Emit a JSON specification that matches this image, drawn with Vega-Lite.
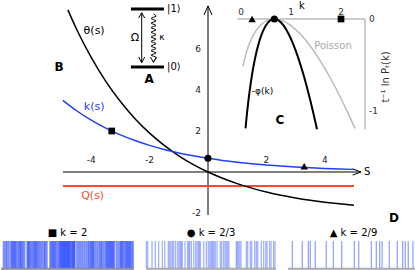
{
"$schema":"https://vega.github.io/schema/vega-lite/v6.json",
"padding":0,
"spacing":0,
"config":{"view":{"stroke":null},"font":"DejaVu Sans","axis":{"disable":true},"title":{"fontWeight":"normal","fontSize":10,"offset":2,"color":"#000"}},
"vconcat":[
{
"width":415,"height":228,
"resolve":{"scale":{"x":"independent","y":"independent"}},
"layer":[
{
"encoding":{
"x":{"field":"s","type":"quantitative","scale":{"domain":[-7.089,7.123],"nice":false,"zero":false},"axis":null},
"y":{"field":"v","type":"quantitative","scale":{"domain":[-2.732,8.39],"nice":false,"zero":false},"axis":null}
},
"layer":[
{"data":{"values":[{"s":-4.97,"s2":5.24,"v":0}]},"mark":{"type":"rule","color":"#000","strokeWidth":1},"encoding":{"x2":{"field":"s2"}}},
{"data":{"values":[{"s":0,"v":-2.1,"v2":8.1}]},"mark":{"type":"rule","color":"#000","strokeWidth":1},"encoding":{"y2":{"field":"v2"}}},
{"data":{"values":[{"s":-4},{"s":-3},{"s":-2},{"s":-1},{"s":1},{"s":2},{"s":3},{"s":4}]},"mark":{"type":"rule","color":"#000","strokeWidth":1},"encoding":{"y":{"datum":-0.26},"y2":{"datum":0.3}}},
{"data":{"values":[{"v":-2},{"v":-1},{"v":1},{"v":2},{"v":3},{"v":4},{"v":5},{"v":6},{"v":7}]},"mark":{"type":"rule","color":"#000","strokeWidth":1},"encoding":{"x":{"datum":-0.17},"x2":{"datum":0.17}}},
{"data":{"values":[{"s":-4,"v":0.58,"t":"-4"},{"s":-2,"v":0.58,"t":"-2"},{"s":2,"v":0.58,"t":"2"},{"s":4,"v":0.58,"t":"4"}]},"mark":{"type":"text","fontSize":9,"color":"#222","align":"center","baseline":"middle"},"encoding":{"text":{"field":"t"}}},
{"data":{"values":[{"s":-0.24,"v":6,"t":"6"},{"s":-0.24,"v":4,"t":"4"},{"s":-0.24,"v":2,"t":"2"},{"s":-0.24,"v":-2,"t":"-2"}]},"mark":{"type":"text","fontSize":9,"color":"#222","align":"right","baseline":"middle"},"encoding":{"text":{"field":"t"}}},
{"data":{"values":[
{"g":"hx","o":0,"s":4.955,"v":0.15},{"g":"hx","o":1,"s":5.24,"v":0},{"g":"hx","o":2,"s":4.955,"v":-0.15},
{"g":"vy","o":0,"s":-0.137,"v":7.66},{"g":"vy","o":1,"s":0,"v":8.1},{"g":"vy","o":2,"s":0.137,"v":7.66},
{"g":"om1","o":0,"s":-2.373,"v":7.51},{"g":"om1","o":1,"s":-2.271,"v":7.77},{"g":"om1","o":2,"s":-2.168,"v":7.51},
{"g":"om2","o":0,"s":-2.373,"v":5.61},{"g":"om2","o":1,"s":-2.271,"v":5.33},{"g":"om2","o":2,"s":-2.168,"v":5.61},
{"g":"ka","o":0,"s":-1.969,"v":5.61},{"g":"ka","o":1,"s":-1.866,"v":5.34},{"g":"ka","o":2,"s":-1.764,"v":5.61}
]},"mark":{"type":"line","color":"#000","strokeWidth":1},"encoding":{"detail":{"field":"g"},"order":{"field":"o"}}},
{"data":{"values":[
{"o":0,"s":-1.866,"v":7.71},{"o":1,"s":-1.78,"v":7.6},{"o":2,"s":-1.95,"v":7.49},{"o":3,"s":-1.78,"v":7.37},{"o":4,"s":-1.95,"v":7.26},{"o":5,"s":-1.78,"v":7.15},{"o":6,"s":-1.95,"v":7.04},{"o":7,"s":-1.78,"v":6.93},{"o":8,"s":-1.95,"v":6.82},{"o":9,"s":-1.78,"v":6.7},{"o":10,"s":-1.95,"v":6.59},{"o":11,"s":-1.78,"v":6.48},{"o":12,"s":-1.95,"v":6.37},{"o":13,"s":-1.78,"v":6.26},{"o":14,"s":-1.95,"v":6.14},{"o":15,"s":-1.78,"v":6.03},{"o":16,"s":-1.95,"v":5.92},{"o":17,"s":-1.78,"v":5.81},{"o":18,"s":-1.95,"v":5.7},{"o":19,"s":-1.78,"v":5.59},{"o":20,"s":-1.866,"v":5.4}
]},"mark":{"type":"line","color":"#000","strokeWidth":1,"interpolate":"cardinal"},"encoding":{"order":{"field":"o"}}},
{"data":{"values":[{"s":-2.271,"v":5.36,"v2":7.74}]},"mark":{"type":"rule","color":"#000","strokeWidth":1},"encoding":{"y2":{"field":"v2"}}},
{"data":{"values":[{"s":-2.64,"s2":-1.51,"v":7.95},{"s":-2.64,"s2":-1.51,"v":5.12}]},"mark":{"type":"rule","color":"#000","strokeWidth":3},"encoding":{"x2":{"field":"s2"}}},
{"data":{"values":[{"s":-4.97,"s2":5.0,"v":-0.68}]},"mark":{"type":"rule","color":"#ff4a2a","strokeWidth":2},"encoding":{"x2":{"field":"s2"}}},
{"data":{"values":[
{"s":-4.8,"v":7.906},{"s":-4.5,"v":6.963},{"s":-4,"v":5.587},{"s":-3.5,"v":4.422},{"s":-3,"v":3.437},{"s":-2.5,"v":2.602},{"s":-2,"v":1.895},{"s":-1.5,"v":1.297},{"s":-1,"v":0.791},{"s":-0.5,"v":0.363},{"s":0,"v":0},{"s":0.5,"v":-0.307},{"s":1,"v":-0.567},{"s":1.5,"v":-0.787},{"s":2,"v":-0.973},{"s":2.5,"v":-1.131},{"s":3,"v":-1.264},{"s":3.5,"v":-1.377},{"s":4,"v":-1.473},{"s":4.5,"v":-1.554},{"s":5,"v":-1.622}
]},"mark":{"type":"line","color":"#000","strokeWidth":1.5,"interpolate":"monotone"}},
{"data":{"values":[
{"s":-4.97,"v":3.495},{"s":-4.5,"v":2.988},{"s":-4,"v":2.529},{"s":-3.5,"v":2.141},{"s":-3,"v":1.812},{"s":-2.5,"v":1.534},{"s":-2,"v":1.298},{"s":-1.5,"v":1.099},{"s":-1,"v":0.93},{"s":-0.5,"v":0.788},{"s":0,"v":0.667},{"s":0.5,"v":0.564},{"s":1,"v":0.478},{"s":1.5,"v":0.404},{"s":2,"v":0.342},{"s":2.5,"v":0.29},{"s":3,"v":0.245},{"s":3.5,"v":0.208},{"s":4,"v":0.176},{"s":4.5,"v":0.149},{"s":5,"v":0.126}
]},"mark":{"type":"line","color":"#1f40ff","strokeWidth":1.5,"interpolate":"monotone"}},
{"data":{"values":[{"s":-3.296,"v":2,"k":"2"},{"s":0,"v":0.667,"k":"2/3"},{"s":3.296,"v":0.28,"k":"2/9"}]},"mark":{"type":"point","filled":true,"color":"#000","opacity":1},
 "encoding":{"shape":{"field":"k","type":"nominal","scale":{"domain":["2","2/3","2/9"],"range":["square","circle","triangle-up"]},"legend":null},
 "size":{"field":"k","type":"nominal","scale":{"domain":["2","2/3","2/9"],"range":[45,55,45]},"legend":null}}},
{"data":{"values":[{"s":-3.9,"v":6.88,"t":"θ(s)"},{"s":-2.5,"v":6.54,"t":"Ω"}]},"mark":{"type":"text","fontSize":11,"color":"#000","align":"center","baseline":"middle"},"encoding":{"text":{"field":"t"}}},
{"data":{"values":[{"s":-1.58,"v":6.59,"t":"κ"}]},"mark":{"type":"text","fontSize":9,"color":"#000","align":"center","baseline":"middle"},"encoding":{"text":{"field":"t"}}},
{"data":{"values":[{"s":-1.4,"v":7.95,"t":"|1⟩"},{"s":-1.4,"v":5.12,"t":"|0⟩"}]},"mark":{"type":"text","fontSize":10,"color":"#000","align":"left","baseline":"middle"},"encoding":{"text":{"field":"t"}}},
{"data":{"values":[{"s":-3.9,"v":3.17,"t":"k(s)"}]},"mark":{"type":"text","fontSize":11,"color":"#1f40ff","align":"center","baseline":"middle"},"encoding":{"text":{"field":"t"}}},
{"data":{"values":[{"s":-3.95,"v":-1.17,"t":"Q(s)"}]},"mark":{"type":"text","fontSize":11,"color":"#ff4a2a","align":"center","baseline":"middle"},"encoding":{"text":{"field":"t"}}},
{"data":{"values":[{"s":-5.1,"v":5.12,"t":"B"},{"s":-2.02,"v":4.54,"t":"A"},{"s":6.37,"v":-2.24,"t":"D"}]},"mark":{"type":"text","fontSize":12,"fontWeight":"bold","color":"#000","align":"center","baseline":"middle"},"encoding":{"text":{"field":"t"}}},
{"data":{"values":[{"s":5.45,"v":0,"t":"S"}]},"mark":{"type":"text","fontSize":10,"color":"#000","align":"center","baseline":"middle"},"encoding":{"text":{"field":"t"}}}
]
},
{
"encoding":{
"x":{"field":"k","type":"quantitative","scale":{"domain":[-4.8,3.5],"nice":false,"zero":false},"axis":null},
"y":{"field":"p","type":"quantitative","scale":{"domain":[-2.272,0.2065],"nice":false,"zero":false},"axis":null}
},
"layer":[
{"data":{"values":[{"k":-0.07,"k2":2.48,"p":0}]},"mark":{"type":"rule","color":"#999","strokeWidth":1},"encoding":{"x2":{"field":"k2"}}},
{"data":{"values":[{"k":2.48,"p":0,"p2":-1.2}]},"mark":{"type":"rule","color":"#999","strokeWidth":1},"encoding":{"y2":{"field":"p2"}}},
{"data":{"values":[{"p":-0.2},{"p":-0.4},{"p":-0.6},{"p":-0.8},{"p":-1.0},{"p":-1.2}]},"mark":{"type":"rule","color":"#999","strokeWidth":1},"encoding":{"x":{"datum":2.4},"x2":{"datum":2.48}}},
{"data":{"values":[{"k":0},{"k":1},{"k":2}]},"mark":{"type":"rule","color":"#999","strokeWidth":1},"encoding":{"y":{"datum":0},"y2":{"datum":0.035}}},
{"data":{"values":[{"k":0,"p":0.075,"t":"0"},{"k":1,"p":0.075,"t":"1"},{"k":2,"p":0.075,"t":"2"}]},"mark":{"type":"text","fontSize":9,"color":"#333","align":"center","baseline":"middle"},"encoding":{"text":{"field":"t"}}},
{"data":{"values":[{"k":2.56,"p":0,"t":"0"},{"k":2.56,"p":-1,"t":"-1"}]},"mark":{"type":"text","fontSize":9,"color":"#333","align":"left","baseline":"middle"},"encoding":{"text":{"field":"t"}}},
{"data":{"values":[{"k":1.22,"p":0.14,"t":"k"}]},"mark":{"type":"text","fontSize":10,"color":"#000","align":"center","baseline":"middle"},"encoding":{"text":{"field":"t"}}},
{"data":{"values":[{"k":2.9,"p":-0.63,"t":"t⁻¹ ln Pₜ(k)"}]},"mark":{"type":"text","fontSize":10,"color":"#333","align":"center","baseline":"middle","angle":270},"encoding":{"text":{"field":"t"}}},
{"data":{"values":[
{"k":0.04,"p":-0.514},{"k":0.1,"p":-0.377},{"k":0.2,"p":-0.226},{"k":0.3,"p":-0.127},{"k":0.4,"p":-0.062},{"k":0.5,"p":-0.023},{"k":0.667,"p":0},{"k":0.8,"p":-0.0125},{"k":1.0,"p":-0.0721},{"k":1.2,"p":-0.172},{"k":1.4,"p":-0.305},{"k":1.6,"p":-0.468},{"k":1.8,"p":-0.655},{"k":2.0,"p":-0.864},{"k":2.15,"p":-1.034},{"k":2.28,"p":-1.19}
]},"mark":{"type":"line","color":"#bbbbbb","strokeWidth":1.5,"interpolate":"monotone"}},
{"data":{"values":[
{"k":0.09,"p":-1.19},{"k":0.12,"p":-1.023},{"k":0.15,"p":-0.879},{"k":0.2,"p":-0.678},{"k":0.25,"p":-0.514},{"k":0.3,"p":-0.381},{"k":0.35,"p":-0.273},{"k":0.4,"p":-0.187},{"k":0.5,"p":-0.069},{"k":0.6,"p":-0.01},{"k":0.667,"p":0},{"k":0.75,"p":-0.015},{"k":0.85,"p":-0.069},{"k":0.95,"p":-0.16},{"k":1.05,"p":-0.281},{"k":1.15,"p":-0.431},{"k":1.25,"p":-0.607},{"k":1.35,"p":-0.808},{"k":1.45,"p":-1.03},{"k":1.52,"p":-1.198}
]},"mark":{"type":"line","color":"#000","strokeWidth":2,"interpolate":"monotone"}},
{"data":{"values":[{"k":2.0,"p":0,"m":"2"},{"k":0.667,"p":0,"m":"2/3"},{"k":0.222,"p":0,"m":"2/9"}]},"mark":{"type":"point","filled":true,"color":"#000","opacity":1},
 "encoding":{"shape":{"field":"m","type":"nominal","scale":{"domain":["2","2/3","2/9"],"range":["square","circle","triangle-up"]},"legend":null},
 "size":{"field":"m","type":"nominal","scale":{"domain":["2","2/3","2/9"],"range":[22,38,22]},"legend":null}}},
{"data":{"values":[{"k":1.84,"p":-0.29,"t":"Poisson"}]},"mark":{"type":"text","fontSize":10,"color":"#aaa","align":"center","baseline":"middle"},"encoding":{"text":{"field":"t"}}},
{"data":{"values":[{"k":0.43,"p":-0.78,"t":"-φ(k)"}]},"mark":{"type":"text","fontSize":9,"color":"#000","align":"center","baseline":"middle"},"encoding":{"text":{"field":"t"}}},
{"data":{"values":[{"k":0.78,"p":-1.1,"t":"C"}]},"mark":{"type":"text","fontSize":12,"fontWeight":"bold","color":"#000","align":"center","baseline":"middle"},"encoding":{"text":{"field":"t"}}}
]
}
]
},
{
"spacing":10,
"hconcat":[
{"width":133,"height":29,"title":"■ k = 2",
"layer":[
{"data":{"values":[{"t":0.5},{"t":1.8},{"t":3.0},{"t":4.4},{"t":6.0},{"t":7.0},{"t":7.8},{"t":8.6},{"t":9.4},{"t":10.2},{"t":11.5},{"t":12.6},{"t":13.4},{"t":14.0},{"t":15.2},{"t":16.4},{"t":18.6},{"t":19.3},{"t":20.0},{"t":20.8},{"t":22.0},{"t":23.2},{"t":24.0},{"t":24.8},{"t":25.6},{"t":26.4},{"t":27.6},{"t":28.8},{"t":30.0},{"t":31.4},{"t":32.2},{"t":33.4},{"t":36.0},{"t":37.0},{"t":37.8},{"t":38.6},{"t":39.4},{"t":40.2},{"t":41.4},{"t":42.6},{"t":43.4},{"t":44.2},{"t":44.8},{"t":45.4},{"t":46.0},{"t":46.6},{"t":47.2},{"t":47.8},{"t":48.4},{"t":49.0},{"t":49.6},{"t":50.2},{"t":50.8},{"t":51.4},{"t":52.4},{"t":53.0},{"t":53.6},{"t":54.2},{"t":54.8},{"t":56.6},{"t":58.0},{"t":59.4},{"t":60.8},{"t":62.2},{"t":63.6},{"t":65.0},{"t":66.0},{"t":67.0},{"t":67.8},{"t":68.6},{"t":69.4},{"t":70.8},{"t":72.2},{"t":73.6},{"t":74.6},{"t":75.6},{"t":77.0},{"t":78.4},{"t":79.2},{"t":80.0},{"t":80.8},{"t":81.6},{"t":82.4},{"t":83.2},{"t":84.0},{"t":84.8},{"t":86.6},{"t":88.0},{"t":89.4},{"t":90.2},{"t":91.0},{"t":91.8},{"t":93.0},{"t":94.0},{"t":94.8},{"t":95.6},{"t":96.4},{"t":97.2},{"t":98.0},{"t":99.2}]},
 "mark":{"type":"rule","color":"#2a48ff","strokeWidth":1.9,"opacity":0.62},
 "encoding":{"x":{"field":"t","type":"quantitative","scale":{"domain":[-1.53,100],"nice":false,"zero":false},"axis":null},"y":{"datum":0.06,"scale":{"domain":[0,1],"nice":false},"axis":null},"y2":{"datum":1}}},
{"data":{"values":[{"b":0}]},"mark":{"type":"rule","color":"#8a8a9a","strokeWidth":2},"encoding":{"y":{"datum":0.04,"scale":{"domain":[0,1],"nice":false},"axis":null}}}
]},
{"width":130,"height":29,"title":"● k = 2/3",
"layer":[
{"data":{"values":[{"t":0.3},{"t":1.3},{"t":4.6},{"t":7.2},{"t":9.7},{"t":12.6},{"t":14.4},{"t":17.2},{"t":18.2},{"t":19.2},{"t":20.3},{"t":21.3},{"t":22.8},{"t":24.4},{"t":25.4},{"t":26.4},{"t":27.2},{"t":27.9},{"t":30.0},{"t":32.0},{"t":32.8},{"t":33.6},{"t":34.9},{"t":36.7},{"t":38.2},{"t":39.2},{"t":40.3},{"t":41.0},{"t":41.8},{"t":44.4},{"t":46.4},{"t":47.9},{"t":49.0},{"t":50.0},{"t":50.8},{"t":51.5},{"t":52.3},{"t":53.3},{"t":54.6},{"t":57.2},{"t":58.2},{"t":59.7},{"t":60.8},{"t":61.8},{"t":62.8},{"t":63.8},{"t":69.5},{"t":70.2},{"t":71.0},{"t":72.1},{"t":73.1},{"t":77.2},{"t":78.2},{"t":80.3},{"t":81.3},{"t":83.6},{"t":84.9},{"t":85.9},{"t":88.7},{"t":90.5},{"t":92.1},{"t":93.1},{"t":95.1},{"t":96.2},{"t":98.2},{"t":99.2}]},
 "mark":{"type":"rule","color":"#5a75ff","strokeWidth":1.3,"opacity":0.55},
 "encoding":{"x":{"field":"t","type":"quantitative","scale":{"domain":[0,100],"nice":false,"zero":false},"axis":null},"y":{"datum":0.06,"scale":{"domain":[0,1],"nice":false},"axis":null},"y2":{"datum":1}}},
{"data":{"values":[{"b":0}]},"mark":{"type":"rule","color":"#aaa","strokeWidth":2},"encoding":{"y":{"datum":0.04,"scale":{"domain":[0,1],"nice":false},"axis":null}}}
]},
{"width":131,"height":29,"title":"▲ k = 2/9",
"layer":[
{"data":{"values":[{"t":3.3},{"t":10.9},{"t":15.5},{"t":17.0},{"t":20.8},{"t":29.2},{"t":34.6},{"t":41.0},{"t":50.6},{"t":54.0},{"t":63.6},{"t":67.4},{"t":70.0},{"t":71.8},{"t":77.3},{"t":83.4},{"t":87.5},{"t":89.5},{"t":91.8},{"t":95.4}]},
 "mark":{"type":"rule","color":"#6680ff","strokeWidth":1.2,"opacity":0.75},
 "encoding":{"x":{"field":"t","type":"quantitative","scale":{"domain":[0,100],"nice":false,"zero":false},"axis":null},"y":{"datum":0.06,"scale":{"domain":[0,1],"nice":false},"axis":null},"y2":{"datum":1}}},
{"data":{"values":[{"b":0}]},"mark":{"type":"rule","color":"#aaa","strokeWidth":2},"encoding":{"y":{"datum":0.04,"scale":{"domain":[0,1],"nice":false},"axis":null}}}
]}
]
}
]
}
